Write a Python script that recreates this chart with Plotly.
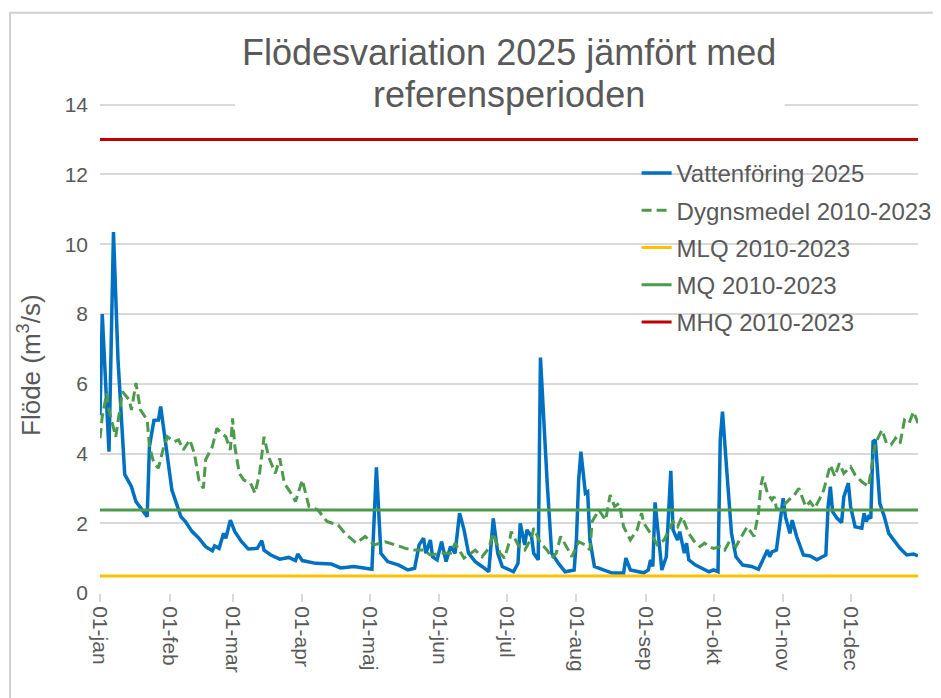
import plotly.graph_objects as go

# dag = dag på året (0 = 1 jan 2025)
dag_2025 = [0, 1, 4, 6, 8, 11, 14, 16, 21, 22, 24, 26, 27, 30, 32, 36, 38, 41, 44, 47, 50, 51, 53, 55, 56, 58,
            60, 63, 66, 70, 72, 73, 76, 80, 84, 87, 88, 90, 96, 103, 107, 113, 121, 123, 125, 128, 133, 137,
            140, 142, 144, 145, 147, 148, 150, 152, 154, 156, 158, 160, 162, 164, 167, 170, 173, 175, 177,
            179, 184, 186, 187, 189, 190, 192, 193, 195, 196, 199, 201, 204, 207, 211, 212, 213, 214, 216,
            217, 218, 220, 224, 228, 233, 234, 236, 242, 244, 245, 246, 247, 249, 250, 252, 254, 255, 257,
            258, 260, 261, 262, 265, 268, 271, 273, 275, 276, 277, 279, 281, 283, 286, 290, 293, 295, 297,
            298, 299, 301, 302, 304, 305, 307, 308, 310, 313, 316, 319, 322, 323, 324, 325, 326, 328, 330,
            331, 333, 334, 336, 339, 340, 341, 342, 343, 344, 345, 347, 349, 351, 354, 356, 359, 362, 364]
flode_2025 = [5.1, 8.0, 4.05, 10.35, 6.7, 3.4, 3.05, 2.62, 2.19, 4.2, 4.95, 4.96, 5.35, 4.0, 2.95, 2.19, 2.05,
              1.76, 1.57, 1.33, 1.21, 1.35, 1.28, 1.71, 1.57, 2.09, 1.76, 1.47, 1.26, 1.28, 1.5, 1.23, 1.09,
              0.97, 1.02, 0.93, 1.12, 0.93, 0.85, 0.83, 0.72, 0.76, 0.68, 3.6, 1.14, 0.9, 0.8, 0.66, 0.71,
              1.38, 1.57, 1.14, 1.52, 1.04, 0.95, 1.47, 0.9, 1.33, 1.14, 2.29, 1.81, 1.14, 0.9, 0.76, 0.61,
              2.14, 1.14, 0.76, 0.61, 0.85, 2.0, 1.38, 1.81, 1.62, 1.14, 0.95, 6.75, 3.15, 1.14, 0.85, 0.61,
              0.66, 1.52, 3.24, 4.05, 2.86, 2.9, 1.52, 0.76, 0.66, 0.57, 0.57, 1.0, 0.66, 0.58, 0.66, 0.95,
              0.76, 2.6, 1.33, 0.66, 1.04, 3.5, 1.81, 1.52, 1.76, 1.14, 1.43, 0.95, 0.8, 0.71, 0.61, 0.66,
              0.61, 4.39, 5.2, 3.43, 1.71, 1.04, 0.8, 0.76, 0.68, 0.95, 1.23, 1.04, 1.18, 1.23, 1.71, 2.72,
              2.19, 1.71, 2.09, 1.62, 1.09, 1.06, 0.95, 1.04, 1.09, 2.48, 3.05, 2.33, 2.14, 2.02, 2.76, 3.15,
              2.48, 1.9, 1.86, 2.29, 2.05, 2.19, 2.14, 4.34, 4.39, 2.57, 2.19, 1.71, 1.47, 1.28, 1.09, 1.12,
              1.06]

dag_medel = [0, 1, 3, 4, 7, 8, 10, 13, 14, 16, 18, 21, 22, 24, 26, 28, 30, 33, 35, 37, 40, 42, 44, 46, 47,
             50, 52, 54, 56, 58, 59, 60, 62, 64, 67, 69, 71, 73, 75, 78, 80, 82, 85, 87, 90, 93, 97, 101,
             106, 109, 114, 118, 122, 127, 131, 136, 140, 144, 147, 152, 156, 158, 162, 167, 170, 173, 175,
             178, 180, 182, 183, 186, 189, 192, 193, 196, 199, 201, 203, 205, 208, 210, 213, 216, 218, 219,
             222, 225, 227, 229, 231, 233, 236, 239, 241, 242, 245, 248, 251, 254, 255, 257, 259, 262, 265,
             267, 269, 271, 273, 276, 278, 280, 283, 285, 288, 291, 293, 294, 295, 297, 299, 300, 301, 303,
             305, 308, 309, 311, 314, 316, 318, 320, 322, 324, 325, 327, 329, 331, 334, 336, 339, 342, 344,
             345, 348, 350, 352, 354, 356, 358, 360, 362, 364]
dygnsmedel = [4.44, 5.06, 5.73, 5.25, 4.48, 4.96, 5.77, 5.54, 5.25, 6.02, 5.25, 4.96, 4.2, 3.72, 3.58, 4.1,
              4.48, 4.34, 4.39, 4.1, 4.39, 4.0, 3.24, 3.0, 3.82, 4.2, 4.72, 4.58, 4.48, 4.1, 5.01, 4.2, 3.43,
              3.24, 3.15, 2.86, 3.43, 4.48, 3.91, 3.43, 3.86, 3.15, 2.86, 2.62, 3.24, 2.48, 2.38, 2.05, 1.95,
              1.71, 1.43, 1.62, 1.38, 1.47, 1.38, 1.28, 1.23, 1.23, 1.09, 1.14, 1.14, 1.43, 1.0, 1.23, 1.04,
              1.28, 1.71, 1.14, 1.0, 1.43, 1.76, 1.38, 1.23, 1.57, 1.86, 1.43, 1.23, 1.0, 1.14, 1.62, 1.28,
              1.04, 1.47, 1.38, 1.23, 2.05, 2.38, 2.09, 2.81, 2.48, 2.57, 1.9, 1.52, 1.81, 2.29, 2.0, 1.71,
              1.38, 1.52, 1.9, 2.05, 1.9, 2.19, 1.71, 1.43, 1.33, 1.43, 1.33, 1.28, 1.33, 1.23, 1.47, 1.33,
              1.57, 1.9, 1.62, 2.29, 3.05, 3.34, 2.86, 2.67, 2.76, 2.43, 2.38, 2.57, 2.76, 2.81, 3.0, 2.48,
              2.62, 2.43, 2.67, 2.95, 3.43, 3.67, 3.34, 3.72, 3.43, 3.62, 3.39, 3.19, 3.05, 3.91, 4.29, 4.68,
              4.29, 4.25, 4.44, 4.29, 4.96, 4.87, 5.2, 4.87]

mlq = 0.49
mq = 2.38
mhq = 13.0
ar_start, ar_slut = 0, 364

manad_dag = [0, 31, 59, 90, 120, 151, 181, 212, 243, 273, 304, 334]
manad_text = ["01-jan", "01-feb", "01-mar", "01-apr", "01-maj", "01-jun",
              "01-jul", "01-aug", "01-sep", "01-okt", "01-nov", "01-dec"]

grey = "#595959"
font = "Liberation Sans, Arial, sans-serif"

fig = go.Figure()
fig.add_trace(go.Scatter(x=dag_2025, y=flode_2025, mode="lines", name="Vattenföring 2025",
                         line=dict(color="#0070C0", width=3.5), legendgroup="a"))
fig.add_trace(go.Scatter(x=dag_medel, y=dygnsmedel, mode="lines", name="Dygnsmedel 2010-2023",
                         line=dict(color="#4C9A4C", width=3, dash="10px,5px"), legendgroup="b"))
fig.add_trace(go.Scatter(x=[ar_start, ar_slut], y=[mlq, mlq], mode="lines", name="MLQ 2010-2023",
                         line=dict(color="#FFC000", width=3), legendgroup="c"))
fig.add_trace(go.Scatter(x=[ar_start, ar_slut], y=[mq, mq], mode="lines", name="MQ 2010-2023",
                         line=dict(color="#4C9A4C", width=3), legendgroup="d"))
fig.add_trace(go.Scatter(x=[ar_start, ar_slut], y=[mhq, mhq], mode="lines", name="MHQ 2010-2023",
                         line=dict(color="#C00000", width=3), legendgroup="e"))

# y-intervall lite över 14 så att stödlinjen vid 14 ritas
y_max = 14.05
plot_h = 488 * y_max / 14
off = 8  # sidans body-marginal i webbläsaren

fig.update_layout(
    width=941, height=698,
    margin=dict(l=100 - off, r=23 + off, t=593 - plot_h - off, b=105 + off),
    paper_bgcolor="white", plot_bgcolor="white",
    font=dict(family=font, color=grey),
    showlegend=True,
    legend=dict(x=0.656, y=0.902, xanchor="left", yanchor="top", font=dict(size=24, color=grey),
                traceorder="grouped", tracegroupgap=3, bgcolor="rgba(0,0,0,0)"),
    annotations=[
        dict(text="Flödesvariation 2025 jämfört med", xref="paper", yref="paper", x=0.5, y=1.1025,
             xanchor="center", yanchor="middle", showarrow=False, font=dict(size=36, color=grey)),
        dict(text="referensperioden", xref="paper", yref="paper", x=0.5, y=1.0164,
             xanchor="center", yanchor="middle", showarrow=False, font=dict(size=36, color=grey)),
        dict(text="Flöde (m<sup>3</sup>/s)", xref="paper", yref="paper", x=-0.087, y=0.465,
             xanchor="center", yanchor="middle", textangle=-90, showarrow=False,
             font=dict(size=26, color=grey)),
    ],
    shapes=[
        dict(type="rect", xref="paper", yref="paper", x0=-0.11, x1=1.2, y0=-0.4, y1=1.184,
             line=dict(color="#d0d0d0", width=2), layer="below"),
        # vit bakgrund bakom rubriken
        dict(type="rect", xref="paper", yref="paper", x0=0.165, x1=0.837, y0=0.99, y1=1.17,
             fillcolor="white", line=dict(width=0), layer="above"),
    ],
)
fig.update_xaxes(range=[ar_start, ar_slut], tickvals=manad_dag, ticktext=manad_text, tickangle=90,
                 tickfont=dict(size=21, color=grey), showgrid=False, zeroline=False, automargin=False,
                 showline=False, ticks="outside", ticklen=8, tickcolor="#d9d9d9", tickwidth=1.5)
fig.update_yaxes(range=[0, y_max], tickvals=[0, 2, 4, 6, 8, 10, 12, 14], tickfont=dict(size=21, color=grey),
                 gridcolor="#d9d9d9", gridwidth=1.5, zeroline=False, ticks="", ticklabelstandoff=11,
                 automargin=False)

fig.write_html("out.html")
